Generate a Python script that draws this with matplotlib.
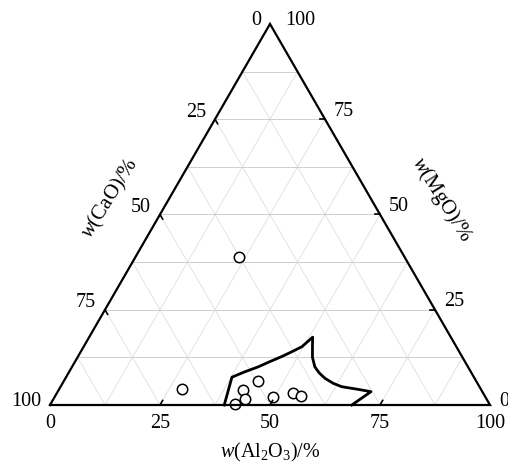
import numpy as np
import matplotlib
matplotlib.use("Agg")
import matplotlib.pyplot as plt

plt.rcParams['font.family'] = ['Liberation Serif', 'DejaVu Serif']
plt.rcParams['mathtext.fontset'] = 'custom'
plt.rcParams['mathtext.rm'] = 'Liberation Serif'
plt.rcParams['mathtext.it'] = 'Liberation Serif:italic'

# Sample compositions (mass %)
cao = [37.6, 68.0, 54.3, 49.65, 54.8, 57.7, 48.15, 43.3, 41.8]
mgo = [38.8, 4.1, 3.9, 6.3, 1.6, 0.3, 2.2, 3.1, 2.4]
al2o3 = [23.6, 27.9, 41.8, 44.05, 43.6, 42.0, 49.65, 53.6, 55.8]

# Outline of the low-melting region (mass %)
reg_mgo = [0.0, 7.3, 8.7, 10.0, 11.4, 12.7, 14.0, 15.3, 17.8, 15.5, 12.5, 10.0, 8.4, 7.0, 5.7, 4.8, 4.1, 3.5, 0.0]
reg_al2o3 = [39.6, 37.7, 39.9, 42.3, 44.3, 46.3, 48.0, 49.6, 50.8, 51.9, 53.4, 55.2, 57.0, 59.0, 61.5, 63.9, 68.0, 71.2, 68.6]

ticks = [0, 25, 50, 75, 100]
grid_levels = np.arange(12.5, 100, 12.5)

h = np.sqrt(3) / 2
fs = 14.5


def tern(al, mg):
    al = np.asarray(al, dtype=float)
    mg = np.asarray(mg, dtype=float)
    return al + mg / 2, mg * h


fig = plt.figure(figsize=(5.08, 4.66), dpi=100)
ax = fig.add_axes([0, 0, 1, 1])
ax.set_xlim(-50 / 4.4, 458 / 4.4)
ax.set_ylim(-61 / 4.4, 405 / 4.4)
ax.axis('off')

# grid
for v in grid_levels:
    # constant MgO (horizontal)
    x, y = tern([0, 100 - v], [v, v])
    ax.plot(x, y, color='#c8c8c8', lw=0.6, zorder=1)
    # constant Al2O3
    x, y = tern([v, v], [0, 100 - v])
    ax.plot(x, y, color='#d8d8d8', lw=0.5, zorder=1)
    # constant CaO
    x, y = tern([100 - v, 0], [0, 100 - v])
    ax.plot(x, y, color='#d8d8d8', lw=0.5, zorder=1)

# triangle frame
x, y = tern([0, 100, 0, 0], [0, 0, 100, 0])
ax.plot(x, y, color='black', lw=1.6, zorder=4, solid_joinstyle='miter')

tl = 1.2  # tick length in data units
px = 1 / 4.4
for v in ticks:
    # bottom axis: Al2O3
    bx, by = tern(v, 0)
    if 0 < v < 100:
        ax.plot([bx, bx + tl * 0.5], [by, by + tl * h], color='black', lw=1.2, zorder=4)
    ax.text(bx, by - 19 * px, str(v), ha='center', va='center', fontsize=fs)
    # left axis: CaO (100 at bottom-left, 0 at top)
    lx, ly = tern(0, 100 - v)
    if 0 < v < 100:
        ax.plot([lx, lx + tl * 0.5], [ly, ly - tl * h], color='black', lw=1.2, zorder=4)
    dy = -3 if v in (0, 100) else -7
    ax.text(lx - 9 * px, ly - dy * px, str(v), ha='right', va='center', fontsize=fs)
    # right axis: MgO (100 at top, 0 at bottom-right)
    rx, ry = tern(100 - v, v)
    if 0 < v < 100:
        ax.plot([rx, rx - tl], [ry, ry], color='black', lw=1.2, zorder=4)
    dy = -3 if v in (0, 100) else -8
    dx = 15 if v == 100 else 9
    ax.text(rx + dx * px, ry - dy * px, str(v), ha='left', va='center', fontsize=fs)

# axis titles
ax.text(60 * px, 207 * px, '$w$(CaO)/%', rotation=58, ha='center', va='center', fontsize=15)
ax.text(392 * px, 205 * px, '$w$(MgO)/%', rotation=-58, ha='center', va='center', fontsize=15)
ax.text(50, -47 * px, '$w$(Al$_2$O$_3$)/%', ha='center', va='center', fontsize=fs)

# region outline
x, y = tern(reg_al2o3, reg_mgo)
ax.plot(x, y, color='black', lw=2.0, zorder=3, solid_joinstyle='round')

# samples
x, y = tern(al2o3, mgo)
ax.plot(x, y, 'o', ms=7.5, mfc='white', mec='black', mew=1.1, zorder=3, linestyle='none')

fig.savefig('out.png', dpi=100)
